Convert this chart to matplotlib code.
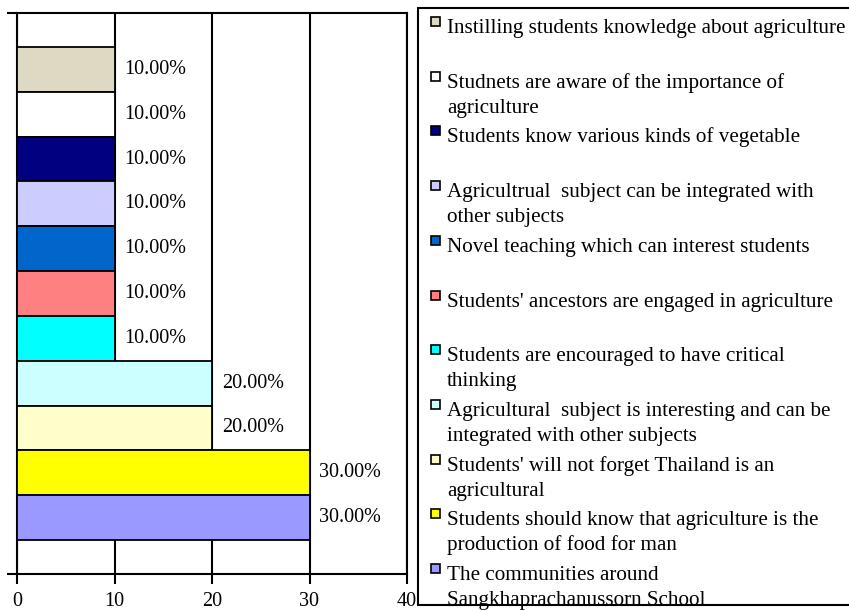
import matplotlib
matplotlib.use('Agg')
import matplotlib.pyplot as plt
from matplotlib.patches import Rectangle

categories = [
    "Instilling students knowledge about agriculture",
    "Studnets are aware of the importance of\nagriculture",
    "Students know various kinds of vegetable",
    "Agricultrual  subject can be integrated with\nother subjects",
    "Novel teaching which can interest students",
    "Students' ancestors are engaged in agriculture",
    "Students are encouraged to have critical\nthinking",
    "Agricultural  subject is interesting and can be\nintegrated with other subjects",
    "Students' will not forget Thailand is an\nagricultural",
    "Students should know that agriculture is the\nproduction of food for man",
    "The communities around\nSangkhaprachanussorn School",
]
values = [10, 10, 10, 10, 10, 10, 10, 20, 20, 30, 30]
colors = ["#DDD9C3", "#FFFFFF", "#000080", "#CCCCFF", "#0066CC", "#FF8080",
          "#00FFFF", "#CCFFFF", "#FFFFCC", "#FFFF00", "#9999FF"]
xticks = [0, 10, 20, 30, 40]

plt.rcParams['font.family'] = ['Liberation Serif', 'DejaVu Serif']
W, H = 849, 610
fig = plt.figure(figsize=(W / 100, H / 100), dpi=100)
ax = fig.add_axes([17 / W, 1 - 574 / H, 390 / W, 561 / H])
n = len(values)
ypos = [n - 1 - i for i in range(n)]
ax.grid(axis='x', color='black', lw=1.5)
ax.set_axisbelow(True)
bars = ax.barh(ypos, values, height=1.0, color=colors, edgecolor='black',
               linewidth=1.3, zorder=3)
ax.bar_label(bars, labels=[f"{v:.2f}%" for v in values], padding=7, fontsize=14.5)
ax.set_xlim(0, 40)
ax.set_ylim(-1.26, n - 1 + 1.26)
ax.set_xticks(xticks)
ax.set_yticks([-1.26, n - 1 + 1.26])
ax.set_yticklabels([])
ax.tick_params(axis='x', direction='out', length=7, width=1.5, labelsize=14.5, pad=6)
ax.tick_params(axis='y', direction='out', length=7, width=1.5)
for s in ax.spines.values():
    s.set_linewidth(1.5)

# legend box
fig.patches.append(Rectangle((418 / W, 5 / H), (W + 10 - 418) / W, (602 - 5) / H,
                             transform=fig.transFigure, facecolor='white',
                             edgecolor='black', lw=1.5, zorder=5))
for i, (lab, c) in enumerate(zip(categories, colors)):
    b = 33 + 54.7 * i
    fig.patches.append(Rectangle((431 / W, 1 - (b - 7) / H), 9 / W, 9 / H,
                                 transform=fig.transFigure, facecolor=c,
                                 edgecolor='black', lw=1.2, zorder=6))
    for j, line in enumerate(lab.split("\n")):
        fig.text(447 / W, 1 - (b + 25 * j) / H, line, fontsize=15.2,
                 va='baseline', ha='left', zorder=7)

fig.savefig('out.png', dpi=100)
